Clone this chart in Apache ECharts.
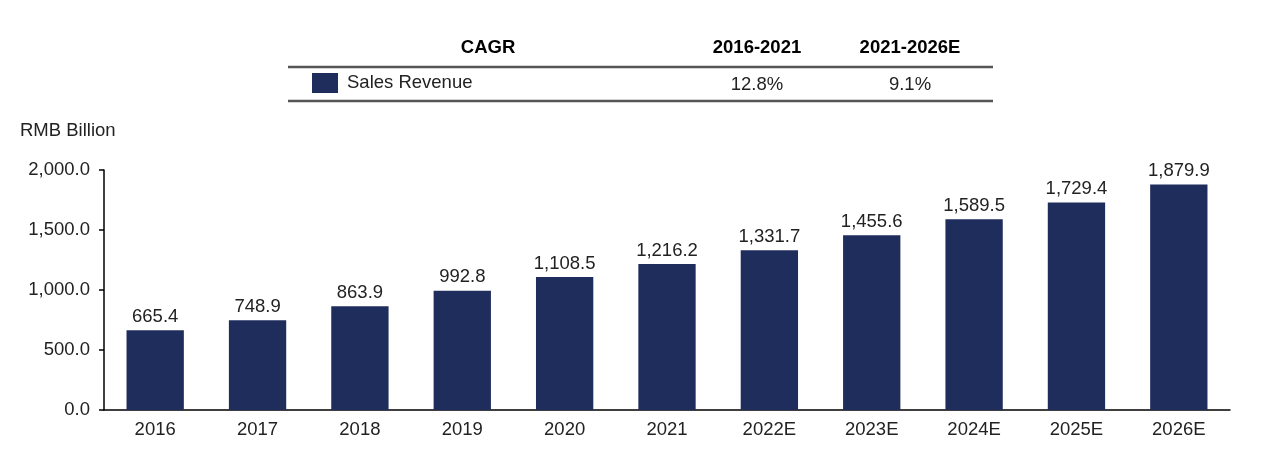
<!DOCTYPE html>
<html>
<head>
<meta charset="utf-8">
<script src="https://cdn.jsdelivr.net/npm/echarts@6/dist/echarts.min.js"></script>
<style>
html,body{margin:0;padding:0;background:#fff;}
#c{width:1278px;height:454px;}
</style>
</head>
<body>
<div id="c"></div>
<script>
var categories = ['2016','2017','2018','2019','2020','2021','2022E','2023E','2024E','2025E','2026E'];
var salesRevenue = [665.4, 748.9, 863.9, 992.8, 1108.5, 1216.2, 1331.7, 1455.6, 1589.5, 1729.4, 1879.9];
var cagrHeaders = ['CAGR', '2016-2021', '2021-2026E'];
var cagrSeriesName = 'Sales Revenue';
var cagrValues = ['12.8%', '9.1%'];
var yTicks = [0, 500, 1000, 1500, 2000];

var FONT = 'Liberation Sans, Arial, sans-serif';
var BAR = '#1f2d5c';
var TXT = '#222222';
var FS = 18.5;

function fmt(v){
  return Number(v).toLocaleString('en-US',{minimumFractionDigits:1,maximumFractionDigits:1});
}

var chart = echarts.init(document.getElementById('c'));
var option = {
  animation:false,
  backgroundColor:'#ffffff',
  textStyle:{fontFamily:FONT},
  grid:{left:104, right:48, top:170, bottom:44, containLabel:false},
  xAxis:{
    type:'category', data:categories,
    axisLine:{show:true, lineStyle:{color:'#000', width:1.5}},
    axisTick:{show:false},
    axisLabel:{color:TXT, fontSize:FS, fontFamily:FONT, margin:10}
  },
  yAxis:{
    type:'value', min:yTicks[0], max:yTicks[yTicks.length-1], interval:500,
    axisLine:{show:true, lineStyle:{color:'#000', width:1.5}},
    axisTick:{show:true, length:5, lineStyle:{color:'#000', width:1.5}},
    splitLine:{show:false},
    axisLabel:{color:TXT, fontSize:FS, fontFamily:FONT, margin:14, formatter:function(v){return fmt(v);}}
  },
  series:[{
    type:'bar', data:salesRevenue, barWidth:'56%',
    itemStyle:{color:BAR},
    label:{show:true, position:'top', distance:4, color:TXT, fontSize:FS, fontFamily:FONT,
      formatter:function(p){return fmt(p.value);}}
  }],
  graphic:[
    {type:'text', left:20, top:121, style:{text:'RMB Billion', fill:TXT, font:FS+'px '+FONT}},
    {type:'text', x:488, y:48, style:{text:cagrHeaders[0], fill:'#000', font:'bold '+FS+'px '+FONT, textAlign:'center', textVerticalAlign:'middle'}},
    {type:'text', x:757, y:48, style:{text:cagrHeaders[1], fill:'#000', font:'bold '+FS+'px '+FONT, textAlign:'center', textVerticalAlign:'middle'}},
    {type:'text', x:910, y:48, style:{text:cagrHeaders[2], fill:'#000', font:'bold '+FS+'px '+FONT, textAlign:'center', textVerticalAlign:'middle'}},
    {type:'line', shape:{x1:288, y1:67, x2:993, y2:67}, style:{stroke:'#555', lineWidth:2.5}},
    {type:'rect', shape:{x:312, y:73, width:26, height:20}, style:{fill:BAR}},
    {type:'text', x:347, y:83, style:{text:cagrSeriesName, fill:TXT, font:FS+'px '+FONT, textVerticalAlign:'middle'}},
    {type:'text', x:757, y:85, style:{text:cagrValues[0], fill:TXT, font:FS+'px '+FONT, textAlign:'center', textVerticalAlign:'middle'}},
    {type:'text', x:910, y:85, style:{text:cagrValues[1], fill:TXT, font:FS+'px '+FONT, textAlign:'center', textVerticalAlign:'middle'}},
    {type:'line', shape:{x1:288, y1:101, x2:993, y2:101}, style:{stroke:'#555', lineWidth:2.5}}
  ]
};
chart.setOption(option);
</script>
</body>
</html>
